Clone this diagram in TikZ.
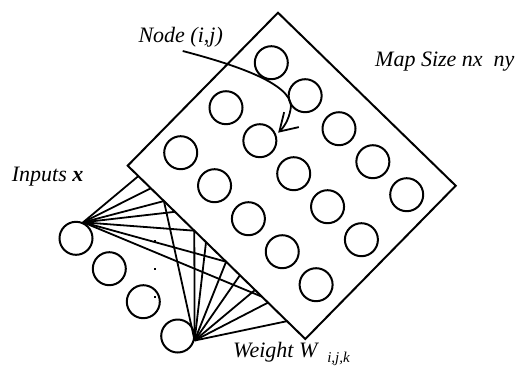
\documentclass[tikz,border=0pt]{standalone}
\usepackage{fontspec}
\setmainfont{Liberation Serif}
\usetikzlibrary{arrows.meta,calc}
\begin{document}
\begin{tikzpicture}[x=1pt,y=-1pt,
  unit/.style={circle,draw,line width=2pt,minimum size=33pt,inner sep=0pt},
  wire/.style={line width=1.8pt},
  frame/.style={line width=2pt,line join=miter},
  lbl/.style={inner sep=0pt,anchor=base west,font=\fontsize{22pt}{26pt}\selectfont\itshape},
  dotmark/.style={fill=black,inner sep=0pt,minimum size=2.8pt}
]
\useasboundingbox (0,0) rectangle (521,365);

% the map: a tilted square frame
\coordinate (T) at (278,12.7);
\coordinate (R) at (455.7,185.7);
\coordinate (B) at (305.3,339);
\coordinate (L) at (127.7,165.7);
\draw[frame] (T) -- (R) -- (B) -- (L) -- cycle;

% map units, 3 rows by 5 columns
\foreach \i in {0,1,2}
  \foreach \j in {0,...,4}
    \node[unit] (m\i\j) at ({271.3+33.85*\j-45.3*\i},{62.7+33*\j+45*\i}) {};

% input units
\node[unit] (in1) at (76,238.3) {};
\node[unit] (in2) at (109.3,268.7) {};
\node[unit] (in3) at (143.3,301.7) {};
\node[unit] (in4) at (177.7,336) {};

% dots between inputs
\node[dotmark] (d1) at (155,241.5) {};
\node[dotmark] (d2) at (155,269) {};
\node[dotmark] (d3) at (155,297) {};

% attachment points on the lower-left edge of the map
\foreach \t [count=\k] in {0.060,0.130,0.204,0.266,0.375,0.441,0.554,0.632,0.717,0.756,0.790,0.897}
  \coordinate (e\k) at ($(L)!\t!(B)$);

% weight connections
\coordinate (f1) at (in1.66);
\coordinate (f4) at (in4.-15);
\foreach \k in {1,2,3,4,5,7,10}
  \draw[wire] (f1) -- (e\k);
\foreach \k in {3,5,6,7,8,9,11,12}
  \draw[wire] (f4) -- (e\k);

% labels
\node[lbl] (nodelbl) at (138.3,42.7) {Node (i,j)};
\node[lbl] (maplbl) at (375,66) {Map Size nx\ \ ny};
\node[lbl] (inlbl) at (11.7,181) {Inputs \textbf{x}};
\node[lbl] (wlbl) at (233,357) {Weight W\hspace{10pt}\raisebox{-5pt}{\fontsize{15pt}{17pt}\selectfont i,j,k}};

% pointer to node (i,j)
\coordinate (ptr) at (182.7,51);
\coordinate (bend) at (291,106);
\coordinate (tip) at ($(m11)+(18.3,-8)$);
\draw[wire,-{Straight Barb[length=17pt,width=21pt,line width=1.8pt]}]
  (ptr) .. controls (240,66) and (290,84) .. (bend)
        .. controls (290,116) and (286,125) .. (tip);
\end{tikzpicture}
\end{document}
